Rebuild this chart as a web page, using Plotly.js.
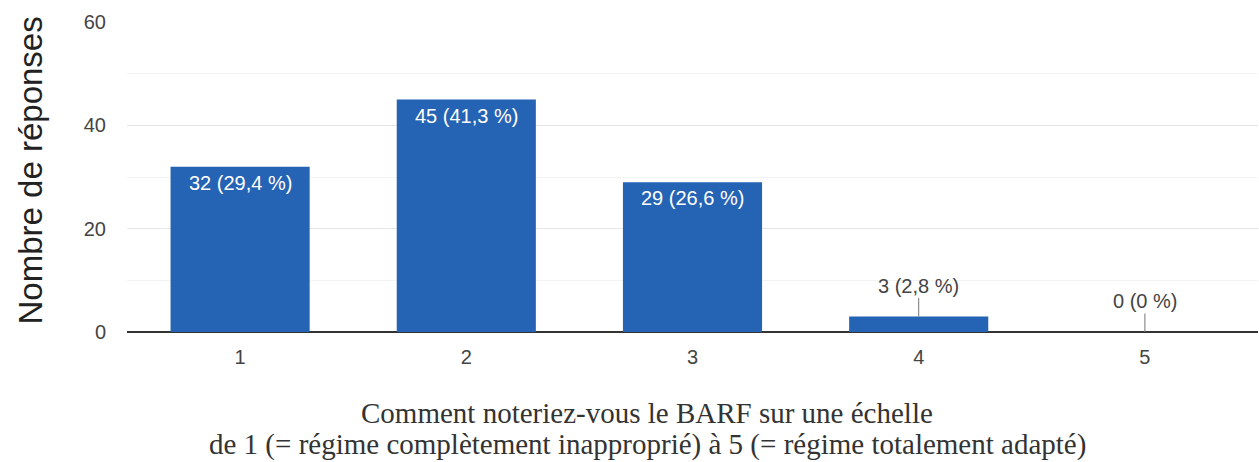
<!DOCTYPE html>
<html>
<head>
<meta charset="utf-8">
<script src="https://cdn.plot.ly/plotly-3.0.1.min.js"></script>
<style>html,body{margin:0;padding:0;background:#fff;}#chart{width:1259px;height:462px;}</style>
</head>
<body>
<div id="chart"></div>
<script>
const categories = ['1', '2', '3', '4', '5'];
const counts = [32, 45, 29, 3, 0];
const percents = ['29,4', '41,3', '26,6', '2,8', '0'];
const yTicks = [0, 20, 40, 60];
const yTitle = 'Nombre de réponses';
const xTitleLines = ['Comment noteriez-vous le BARF sur une échelle',
                     'de 1 (= régime complètement inapproprié) à 5 (= régime totalement adapté)'];

const labels = counts.map((c, i) => c + ' (' + percents[i] + ' %)');
const sans = 'Liberation Sans, Arial, sans-serif';

const annotations = [];
counts.forEach((c, i) => {
  if (c >= 10) {
    annotations.push({x: i, y: c, xref: 'x', yref: 'y', text: labels[i],
      showarrow: false, yanchor: 'middle', yshift: -16,
      font: {family: sans, size: 20, color: '#ffffff'}});
  } else {
    annotations.push({x: i, y: c, xref: 'x', yref: 'y', text: labels[i],
      showarrow: true, arrowhead: 0, arrowwidth: 1, arrowcolor: '#777', ax: 0, ay: -31,
      font: {family: sans, size: 20, color: '#444'}});
  }
});
annotations.push({xref: 'paper', yref: 'paper', x: -0.0855, y: 0.522, text: yTitle,
  textangle: -90, showarrow: false, xanchor: 'center', yanchor: 'middle',
  font: {family: sans, size: 33, color: '#222'}});
annotations.push({xref: 'paper', yref: 'paper', x: (647 - 127) / 1132, y: (332 - 413) / 310, text: xTitleLines[0],
  showarrow: false, xanchor: 'center', yanchor: 'middle',
  font: {family: 'Liberation Serif, Times New Roman, serif', size: 29, color: '#333'}});
annotations.push({xref: 'paper', yref: 'paper', x: (648 - 127) / 1132, y: (332 - 444) / 310, text: xTitleLines[1],
  showarrow: false, xanchor: 'center', yanchor: 'middle',
  font: {family: 'Liberation Serif, Times New Roman, serif', size: 29, color: '#333'}});

const trace = {
  type: 'bar', x: categories, y: counts,
  marker: {color: '#2563b4'}, width: 0.615, hoverinfo: 'skip'
};

const layout = {
  width: 1259, height: 462,
  margin: {l: 127, r: 1, t: 22, b: 130},
  paper_bgcolor: '#fff', plot_bgcolor: '#fff',
  showlegend: false,
  xaxis: {type: 'category', range: [-0.5, 4.5], showgrid: false, zeroline: false,
    showline: false, ticks: '', ticklabelstandoff: 11,
    tickfont: {family: sans, size: 20, color: '#444'}},
  yaxis: {range: [0, 60], tickvals: yTicks, showgrid: true, gridcolor: '#e6e6e6', gridwidth: 1,
    minor: {dtick: 10, showgrid: true, gridcolor: '#f3f3f3', gridwidth: 1},
    zeroline: true, zerolinecolor: '#333', zerolinewidth: 1.5, showline: false, ticks: '',
    ticklabelstandoff: 20,
    tickfont: {family: sans, size: 20, color: '#444'}},
  annotations: annotations
};

Plotly.newPlot('chart', [trace], layout, {displayModeBar: false, staticPlot: true});
</script>
</body>
</html>
